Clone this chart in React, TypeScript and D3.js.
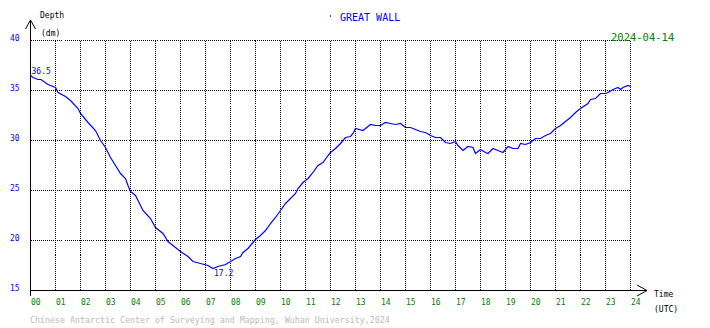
import React from 'react';
import * as d3 from 'd3';

// tide record, hours UTC and depth in dm
const hours = [
  0, 0.1, 0.3, 0.42, 0.7, 1.0, 1.1, 1.4, 1.6, 1.9, 2.0, 2.3, 2.6, 2.8, 3.0, 3.2, 3.4, 3.6, 3.8, 3.9,
  4.0, 4.2, 4.3, 4.5, 4.8, 5.0, 5.3, 5.5, 5.8, 6.0, 6.3, 6.5, 6.8, 7.1, 7.3, 7.5, 7.8, 8.0, 8.2, 8.4,
  8.5, 8.7, 8.9, 9.0, 9.2, 9.4, 9.6, 9.8, 10.0, 10.2, 10.4, 10.6, 10.7, 10.9, 11.1, 11.3, 11.5, 11.7, 11.9, 12.0,
  12.2, 12.4, 12.6, 12.8, 12.9, 13.0, 13.3, 13.4, 13.6, 13.8, 14.0, 14.2, 14.4, 14.6, 14.8, 15.0, 15.2, 15.4, 15.6, 15.8,
  16.0, 16.2, 16.4, 16.6, 16.8, 17.0, 17.1, 17.3, 17.5, 17.7, 17.8, 18.0, 18.2, 18.3, 18.5, 18.7, 18.9, 19.1, 19.3, 19.5,
  19.6, 19.8, 20.0, 20.2, 20.4, 20.6, 20.8, 21.0, 21.2, 21.4, 21.6, 21.8, 22.0, 22.3, 22.4, 22.6, 22.8, 23.0, 23.1, 23.3,
  23.5, 23.6, 23.7, 23.9, 24.0,
];
const depths = [
  36.5, 36.3, 36.1, 36.1, 35.6, 35.3, 34.8, 34.4, 34.0, 33.2, 32.7, 31.8, 31.0, 30.0, 29.3, 28.3, 27.5, 26.7, 26.2, 25.5,
  24.9, 24.5, 24.0, 23.0, 22.2, 21.3, 20.7, 19.9, 19.3, 18.9, 18.4, 17.9, 17.7, 17.5, 17.2, 17.4, 17.6, 17.9, 18.2, 18.4,
  18.8, 19.2, 19.8, 20.1, 20.5, 21.0, 21.7, 22.3, 23.0, 23.7, 24.2, 24.7, 25.2, 25.8, 26.2, 26.8, 27.5, 27.8, 28.5, 28.8,
  29.2, 29.7, 30.3, 30.4, 30.7, 31.2, 31.0, 31.2, 31.6, 31.5, 31.5, 31.8, 31.7, 31.6, 31.7, 31.3, 31.3, 31.1, 30.9, 30.8,
  30.5, 30.3, 30.3, 29.8, 29.7, 29.9, 29.5, 29.0, 29.4, 29.3, 28.7, 29.1, 28.8, 28.7, 29.2, 29.0, 28.8, 29.4, 29.2, 29.2,
  29.7, 29.6, 29.8, 30.2, 30.2, 30.5, 30.7, 31.2, 31.5, 31.9, 32.3, 32.8, 33.2, 33.7, 34.1, 34.2, 34.7, 34.7, 34.8, 35.1,
  35.3, 35.1, 35.3, 35.5, 35.4,
];
const yTicks = [15, 20, 25, 30, 35, 40];
const xTicks = d3.range(0, 25);
const title = 'GREAT WALL';
const dateLabel = '2024-04-14';
const credit = 'Chinese Antarctic Center of Surveying and Mapping, Wuhan University,2024';

const W = 710;
const H = 328;
const mono = '"DejaVu Sans Mono", monospace';

export default function App() {
  const x = d3.scaleLinear().domain([0, 24]).range([30.5, 630.5]);
  const y = d3.scaleLinear().domain([15, 40]).range([290.5, 40.5]);

  const pts: [number, number][] = hours.map((h, i) => [h, depths[i]]);
  const line = d3.line<[number, number]>()
    .x(d => x(d[0]))
    .y(d => y(d[1]));

  const maxIdx = d3.maxIndex(depths);
  const minIdx = d3.minIndex(depths);

  const x0 = x(0);
  const yBase = y(15);

  return (
    <svg
      width={W}
      height={H}
      style={{ position: 'absolute', left: 0, top: 0, background: '#fff' }}
      fontFamily={mono}
    >
      {/* grid */}
      <g stroke="#000" strokeWidth={1} strokeDasharray="1,1" shapeRendering="crispEdges">
        {yTicks.filter(t => t > 15).map(t => (
          <line key={'h' + t} x1={x0} x2={x(24)} y1={y(t)} y2={y(t)} />
        ))}
        {xTicks.filter(t => t > 0).map(t => (
          <line key={'v' + t} x1={x(t)} x2={x(t)} y1={y(40)} y2={yBase} />
        ))}
      </g>

      {/* axes with arrows */}
      <g stroke="#000" strokeWidth={1} fill="none">
        <line x1={x0} x2={x0} y1={yBase + 5} y2={20} shapeRendering="crispEdges" />
        <polyline points={`${x0 - 5},29 ${x0},20 ${x0 + 5},29`} />
        <line x1={x0} x2={647} y1={yBase} y2={yBase} shapeRendering="crispEdges" />
        <polyline points={`637,285 647,${yBase} 637,296`} />
      </g>

      {/* series */}
      <path d={line(pts) || ''} fill="none" stroke="#0000ff" strokeWidth={1.2} />

      {/* y ticks */}
      <g fill="#0000ff" fontSize={8}>
        {yTicks.map(t => (
          <text key={t} x={10} y={y(t) + 0.5}>{t}</text>
        ))}
      </g>

      {/* x ticks */}
      <g fill="#008000" fontSize={8}>
        {xTicks.map(t => (
          <text key={t} x={x(t) + 0.5} y={305}>{String(t).padStart(2, '0')}</text>
        ))}
      </g>

      {/* extreme labels */}
      <g fill="#0000ff" fontSize={8}>
        <text x={x(hours[maxIdx]) + 1} y={y(depths[maxIdx]) - 2}>{depths[maxIdx].toFixed(1)}</text>
        <text x={x(hours[minIdx]) + 1} y={y(depths[minIdx]) + 7}>{depths[minIdx].toFixed(1)}</text>
      </g>

      {/* axis titles */}
      <g fill="#000" fontSize={8}>
        <text x={40} y={17.5}>Depth</text>
        <text x={41} y={35.5}>(dm)</text>
        <text x={654} y={297}>Time</text>
        <text x={654} y={311.5}>(UTC)</text>
      </g>

      <circle cx={330.5} cy={16} r={0.8} fill="#0000ff" />
      <text x={340} y={20.5} fill="#0000ff" fontSize={10}>{title}</text>
      <text x={611} y={40.5} fill="#008000" fontSize={10.5}>{dateLabel}</text>
      <text x={30} y={323} fill="#bbbbbb" fontSize={8.3}>{credit}</text>
    </svg>
  );
}
